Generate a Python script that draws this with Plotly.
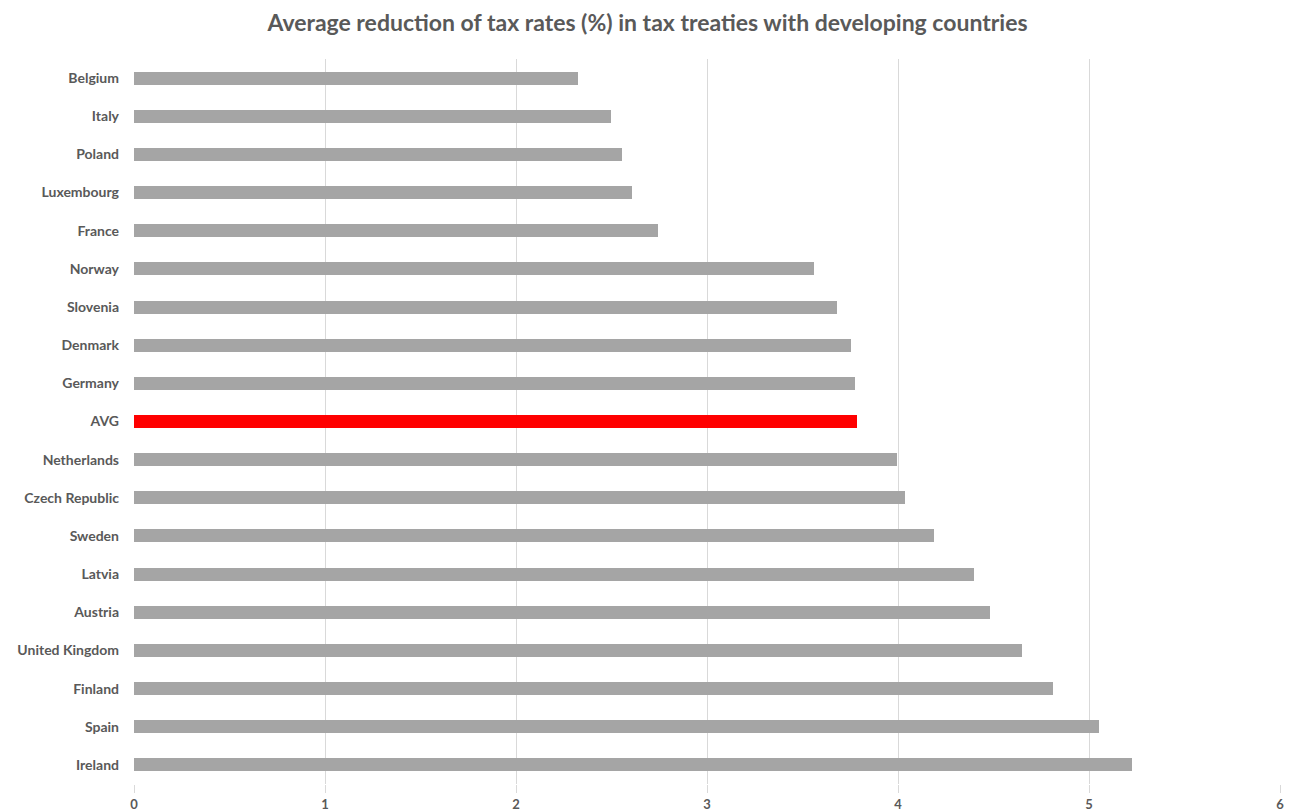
import plotly.graph_objects as go

countries = ["Belgium", "Italy", "Poland", "Luxembourg", "France", "Norway", "Slovenia",
             "Denmark", "Germany", "AVG", "Netherlands", "Czech Republic", "Sweden",
             "Latvia", "Austria", "United Kingdom", "Finland", "Spain", "Ireland"]
values = [2.325, 2.497, 2.555, 2.607, 2.743, 3.56, 3.68, 3.754, 3.775, 3.785, 3.995,
          4.037, 4.19, 4.40, 4.48, 4.65, 4.81, 5.05, 5.225]
x_ticks = [0, 1, 2, 3, 4, 5, 6]

colors = ["#FF0000" if c == "AVG" else "#A5A5A5" for c in countries]

fig = go.Figure(go.Bar(
    x=values, y=countries, orientation="h",
    marker=dict(color=colors, line=dict(width=0)),
    width=0.34,
))

fig.update_layout(
    width=1295, height=812,
    margin=dict(l=134, r=15, t=59, b=28, autoexpand=False),
    paper_bgcolor="white", plot_bgcolor="white",
    title=dict(text="Average reduction of tax rates (%) in tax treaties with developing countries",
               x=0.5, xanchor="center", y=0.972, yanchor="middle",
               font=dict(family="Lato", size=23, color="#595959", weight="bold")),
    font=dict(family="Lato", color="#595959"),
    showlegend=False,
    bargap=0,
)
fig.update_xaxes(range=[0, 6], tickvals=x_ticks, showgrid=True, gridcolor="#D9D9D9",
                 gridwidth=1, zeroline=False, showline=False, automargin=False,
                 ticks="outside", ticklen=8, tickcolor="#D9D9D9",
                 tickfont=dict(size=13, color="#595959", weight="bold"))
fig.update_yaxes(categoryorder="array", categoryarray=countries, autorange="reversed",
                 showgrid=False, zeroline=False, showline=False, ticks="", automargin=False,
                 ticklabelstandoff=14,
                 tickfont=dict(size=14, color="#595959", weight="bold"))

fig.write_html("out.html")
